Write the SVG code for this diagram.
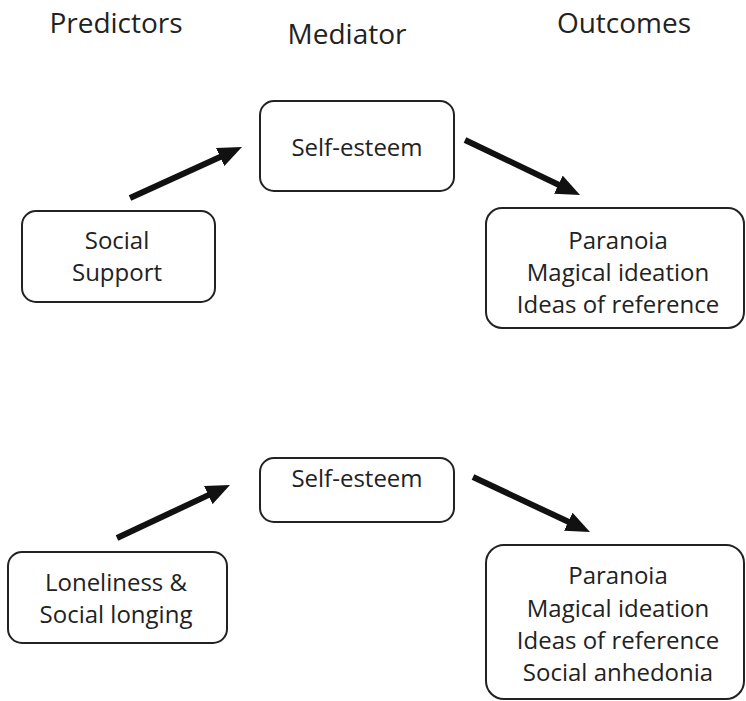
<svg xmlns="http://www.w3.org/2000/svg" width="746" height="701" viewBox="0 0 746 701">
<style>
.box{fill:#fff;stroke:#222;stroke-width:2}
.lbl{font-family:"Open Sans","Noto Sans",sans-serif;font-size:24px;fill:#222;text-anchor:middle}
.hdr{font-family:"Open Sans","Noto Sans",sans-serif;font-size:28px;fill:#222;text-anchor:middle}
.arr{stroke:#111;stroke-width:6;fill:none;marker-end:url(#ah)}
</style>
<defs>
<marker id="ah" viewBox="0 0 24 20" markerWidth="24" markerHeight="20" refX="6" refY="10" orient="auto" markerUnits="userSpaceOnUse">
<path d="M0,0 L24,10 L0,20 z" fill="#111"/>
</marker>
</defs>
<rect width="746" height="701" fill="#fff"/>
<g id="headers">
<text class="hdr" x="116" y="33">Predictors</text>
<text class="hdr" x="347" y="44">Mediator</text>
<text class="hdr" x="624" y="33">Outcomes</text>
</g>
<g id="connectors">
<line class="arr" x1="130" y1="198" x2="225.6" y2="154.5"/>
<line class="arr" x1="465" y1="140" x2="563.8" y2="187.2"/>
<line class="arr" x1="117" y1="538" x2="213.7" y2="492.6"/>
<line class="arr" x1="473" y1="477" x2="573.7" y2="524.3"/>
</g>
<g id="selfesteem1">
<rect class="box" x="260" y="101" width="194" height="90" rx="14"/>
<text class="lbl" x="357" y="156">Self-esteem</text>
</g>
<g id="socialsupport">
<rect class="box" x="22" y="211" width="193" height="91" rx="14"/>
<text class="lbl" x="117" y="249">Social</text>
<text class="lbl" x="117" y="281">Support</text>
</g>
<g id="outcomes1">
<rect class="box" x="486" y="208" width="258" height="120" rx="16"/>
<text class="lbl" x="618" y="249">Paranoia</text>
<text class="lbl" x="618" y="281">Magical ideation</text>
<text class="lbl" x="618" y="313">Ideas of reference</text>
</g>
<g id="selfesteem2">
<rect class="box" x="260" y="458" width="194" height="64" rx="14"/>
<text class="lbl" x="357" y="487">Self-esteem</text>
</g>
<g id="loneliness">
<rect class="box" x="8" y="552" width="219" height="91" rx="14"/>
<text class="lbl" x="116" y="591">Loneliness &amp;</text>
<text class="lbl" x="116" y="623">Social longing</text>
</g>
<g id="outcomes2">
<rect class="box" x="486" y="545" width="258" height="154" rx="18"/>
<text class="lbl" x="618" y="584">Paranoia</text>
<text class="lbl" x="618" y="617">Magical ideation</text>
<text class="lbl" x="618" y="649">Ideas of reference</text>
<text class="lbl" x="618" y="681">Social anhedonia</text>
</g>
</svg>
